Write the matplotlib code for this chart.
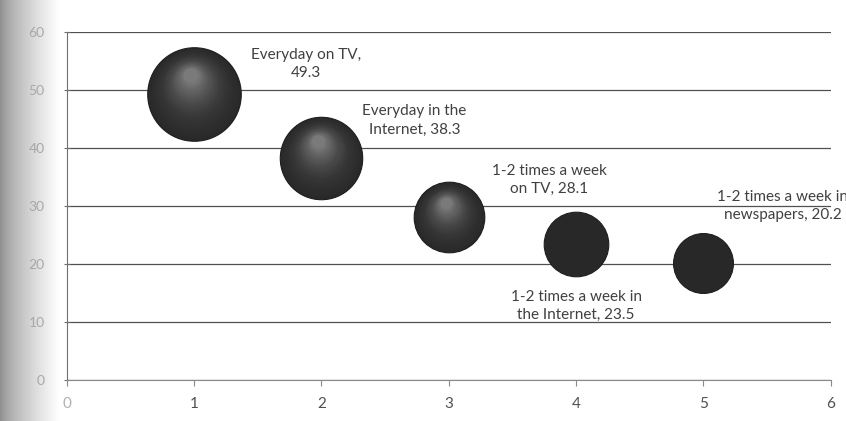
import matplotlib.pyplot as plt
import numpy as np
from matplotlib.colors import to_rgb
from matplotlib.transforms import ScaledTranslation

plt.rcParams['font.family'] = ['Lato', 'DejaVu Sans']

# Frequency of following the news, by source
x_pos = [1, 2, 3, 4, 5]
shares = [49.3, 38.3, 28.1, 23.5, 20.2]
labels = ['Everyday on TV,\n49.3',
          'Everyday in the\nInternet, 38.3',
          '1-2 times a week\non TV, 28.1',
          '1-2 times a week in\nthe Internet, 23.5',
          '1-2 times a week in\nnewspapers, 20.2']
# where each data label sits (data coords)
label_xy = [(1.88, 54.5), (2.73, 44.8), (3.79, 34.5), (4.00, 12.8), (5.62, 30.0)]
shaded = [True, True, True, False, False]

fig = plt.figure(figsize=(8.46, 4.21), dpi=100)
ax = fig.add_axes([0.079, 0.097, 0.903, 0.827])

# scanner shadow on the left edge
sh = fig.add_axes([0, 0, 0.07, 1], zorder=-5)
grad = 0.55 + 0.45 * np.linspace(0, 1, 200) ** 0.7
sh.imshow(grad[None, :], cmap='gray', vmin=0, vmax=1, aspect='auto',
          extent=[0, 1, 0, 1])
sh.axis('off')

ax.set_xlim(0, 6)
ax.set_ylim(0, 60)
ax.set_yticks(range(0, 61, 10))
ax.set_xticks(range(0, 7))
ax.yaxis.grid(True, color='#505050', linewidth=0.9)
ax.set_axisbelow(True)
for s in ['top', 'right']:
    ax.spines[s].set_visible(False)
ax.spines['left'].set_color('#707070')
ax.spines['bottom'].set_color('#8a8a8a')
ax.tick_params(axis='y', length=4, color='#707070', labelcolor='#a8a8a8',
               labelsize=10, pad=14, direction='inout')
ax.tick_params(axis='x', length=4, color='#8a8a8a', labelcolor='#505050',
               labelsize=11, pad=8)
ax.get_xticklabels()[0].set_color('#b0b0b0')

base = np.array(to_rgb('#2e2e2e'))
hi = np.array(to_rgb('#858585'))
scale = 92.0  # marker area (pt^2) per percentage point

for xv, yv, sh_on in zip(x_pos, shares, shaded):
    s0 = yv * scale
    ax.scatter([xv], [yv], s=s0, color='#282828', edgecolors='#1e1e1e',
               linewidths=0.8, zorder=3)
    if not sh_on:
        continue
    r_in = np.sqrt(s0) / 2 / 72.0  # radius in inches
    n = 40
    for k in range(1, n):
        t = k / (n - 1)
        f = 1 - 0.85 * t
        col = base + (hi - base) * t ** 2.0
        off = ScaledTranslation(-0.08 * r_in * t, 0.40 * r_in * t,
                                fig.dpi_scale_trans)
        ax.scatter([xv], [yv], s=s0 * f * f, color=col, linewidths=0,
                   alpha=0.3, zorder=3, transform=ax.transData + off)

for (lx, ly), txt in zip(label_xy, labels):
    ax.text(lx, ly, txt, ha='center', va='center', fontsize=11,
            color='#404040', linespacing=1.4, zorder=4, clip_on=False)

fig.savefig('out.png', dpi=100)
